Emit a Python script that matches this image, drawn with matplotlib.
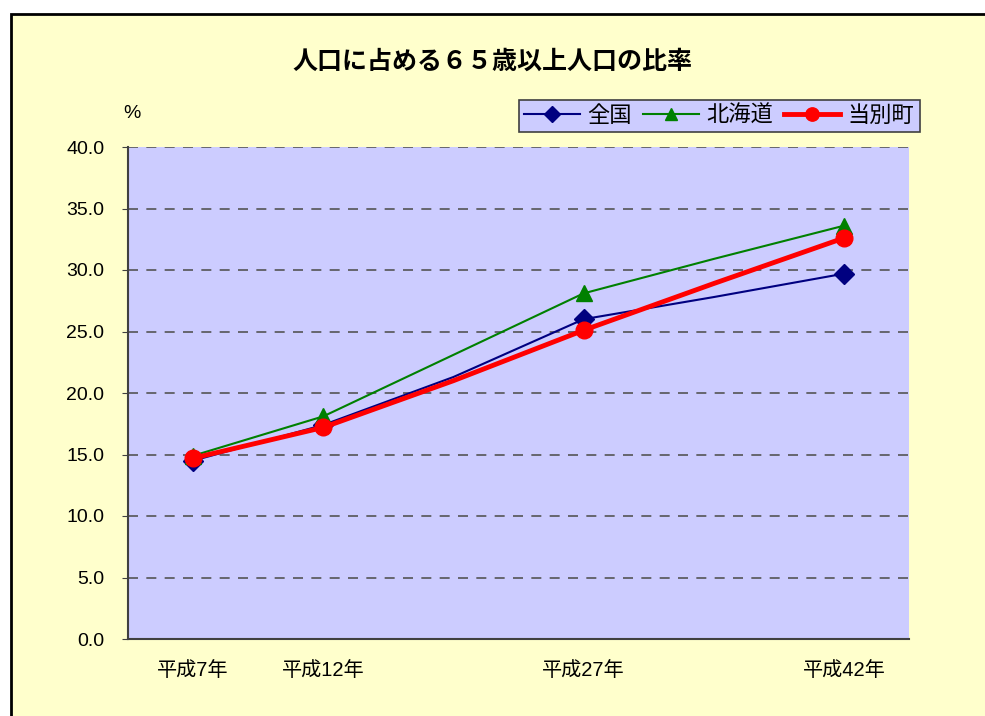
import matplotlib.pyplot as plt
from matplotlib.patches import Rectangle

plt.rcParams['font.family'] = ['Liberation Sans', 'Noto Sans CJK JP', 'DejaVu Sans']

# categories (blank ones carry values but no label/marker)
categories = ['平成7年', '平成12年', '', '平成27年', '', '平成42年']
zenkoku = [14.5, 17.4, 21.3, 26.0, 27.8, 29.7]
hokkaido = [14.9, 18.1, 23.1, 28.1, 30.9, 33.6]
tobetsu = [14.7, 17.2, 21.0, 25.1, 28.9, 32.6]
series_names = ['全国', '北海道', '当別町']
yticks = [0, 5, 10, 15, 20, 25, 30, 35, 40]

fig = plt.figure(figsize=(9.85, 7.16), dpi=100)
fig.patch.set_facecolor('white')

# chart area background with border
fig.patches.append(Rectangle((11/985, -0.05), 1.1, 1 - 14/716 + 0.05,
                             transform=fig.transFigure, facecolor='#FFFFCC',
                             edgecolor='black', linewidth=2, zorder=-10))

ax = fig.add_axes([128/985, 77/716, 781/985, 492/716])
ax.set_facecolor('#CCCCFF')

x = list(range(len(categories)))
marked = [i for i, c in enumerate(categories) if c]

ax.plot(x, zenkoku, color='#000080', lw=1.5, marker='D', ms=10,
        markevery=marked, label=series_names[0], zorder=3)
ax.plot(x, hokkaido, color='#008000', lw=1.5, marker='^', ms=11,
        markevery=marked, label=series_names[1], zorder=3)
ax.plot(x, tobetsu, color='#FF0000', lw=3.5, marker='o', ms=12,
        markevery=marked, label=series_names[2], zorder=4)

ax.set_xlim(-0.5, len(categories) - 0.5)
ax.set_ylim(0, 40)
ax.set_yticks(yticks)
ax.set_yticklabels([f'{v:.1f}' for v in yticks], fontsize=14)
ax.set_xticks(x)
ax.set_xticklabels(categories, fontsize=14.5)
ax.tick_params(axis='x', length=0, pad=16)
ax.tick_params(axis='y', length=4, direction='out', color='#404040', pad=13)

ax.grid(axis='y', color='#555555', linestyle=(0, (6, 5)), linewidth=1.2)
ax.set_axisbelow(True)
for s in ['top', 'right']:
    ax.spines[s].set_visible(False)
for s in ['left', 'bottom']:
    ax.spines[s].set_color('#404040')
    ax.spines[s].set_linewidth(1.5)

fig.text(492/985, 1 - 62/716, '人口に占める６５歳以上人口の比率', ha='center', va='center',
         fontsize=18, fontweight='bold')
fig.text(132/985, 1 - 113/716, '%', ha='center', va='center', fontsize=14)

leg = fig.legend(loc='upper right', bbox_to_anchor=(920/985, 1 - 100/716),
                 ncol=3, fontsize=16, frameon=True, fancybox=False,
                 handlelength=2.5, columnspacing=0.5, handletextpad=0.35,
                 borderpad=0.25, borderaxespad=0, markerscale=0.8)
leg.get_frame().set_facecolor('#CCCCFF')
leg.get_frame().set_edgecolor('#404040')
leg.get_frame().set_linewidth(1.2)
leg.get_frame().set_alpha(1)

fig.savefig('out.png', dpi=100)
